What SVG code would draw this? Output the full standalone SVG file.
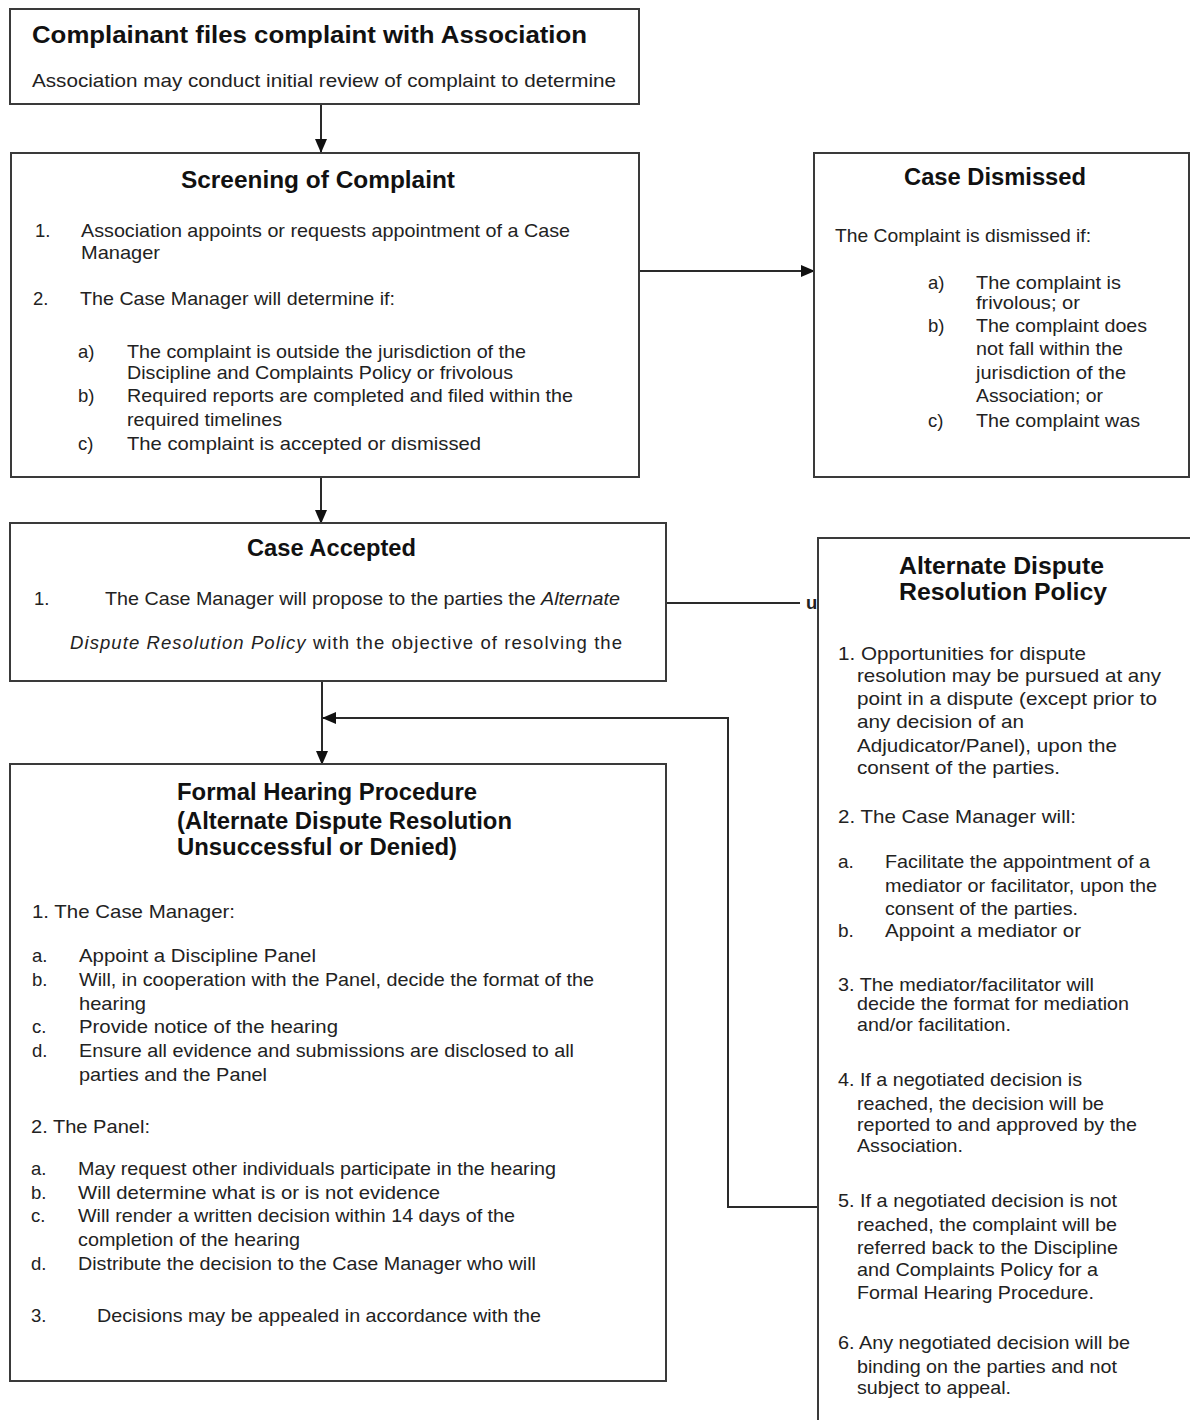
<svg xmlns="http://www.w3.org/2000/svg" width="1190" height="1420" viewBox="0 0 1190 1420">
<style>
.box{fill:#fff;stroke:#3a3a3a;stroke-width:2}
.t{font-family:"Liberation Sans",Arial,sans-serif;font-size:18.5px;fill:#222}
.a{font-family:"Liberation Sans",Arial,sans-serif;font-size:19px;fill:#222}
.h{font-family:"Liberation Sans",Arial,sans-serif;font-size:23.5px;font-weight:bold;fill:#111}
.i{font-style:italic}
.ln{fill:none;stroke:#2a2a2a;stroke-width:2}
</style>
<defs>
<marker id="arr" markerWidth="14" markerHeight="12" refX="13" refY="6" orient="auto" markerUnits="userSpaceOnUse">
<path d="M0,0 L14,6 L0,12 z" fill="#111"/>
</marker>
</defs>
<rect width="1190" height="1420" fill="#fff"/>

<g id="connectors">
<line class="ln" x1="321" y1="104" x2="321" y2="152" marker-end="url(#arr)"/>
<line class="ln" x1="639" y1="271" x2="814" y2="271" marker-end="url(#arr)"/>
<line class="ln" x1="321" y1="477" x2="321" y2="523" marker-end="url(#arr)"/>
<line class="ln" x1="322" y1="681" x2="322" y2="764" marker-end="url(#arr)"/>
<line class="ln" x1="666" y1="603" x2="800" y2="603"/>
<polyline class="ln" points="818,1207 728,1207 728,718 323,718" marker-end="url(#arr)"/>
<text class="t" x="806" y="609" font-weight="bold" font-size="14">u</text>
</g>

<g id="complainant">
<rect class="box" x="10" y="9" width="629" height="95"/>
<text class="h" x="32" y="43" textLength="555" lengthAdjust="spacingAndGlyphs">Complainant files complaint with Association</text>
<text class="t" x="32" y="87" textLength="584" lengthAdjust="spacingAndGlyphs">Association may conduct initial review of complaint to determine</text>
</g>

<g id="screening">
<rect class="box" x="11" y="153" width="628" height="324"/>
<text class="h" x="181" y="188" textLength="274" lengthAdjust="spacingAndGlyphs">Screening of Complaint</text>
<text class="t" x="35" y="237">1.</text>
<text class="t" x="81" y="237" textLength="489" lengthAdjust="spacingAndGlyphs">Association appoints or requests appointment of a Case</text>
<text class="t" x="81" y="259" textLength="79" lengthAdjust="spacingAndGlyphs">Manager</text>
<text class="t" x="33" y="305">2.</text>
<text class="t" x="80" y="305" textLength="315" lengthAdjust="spacingAndGlyphs">The Case Manager will determine if:</text>
<text class="t" x="78" y="358">a)</text>
<text class="t" x="127" y="358" textLength="399" lengthAdjust="spacingAndGlyphs">The complaint is outside the jurisdiction of the</text>
<text class="t" x="127" y="379" textLength="386" lengthAdjust="spacingAndGlyphs">Discipline and Complaints Policy or frivolous</text>
<text class="t" x="78" y="402">b)</text>
<text class="t" x="127" y="402" textLength="446" lengthAdjust="spacingAndGlyphs">Required reports are completed and filed within the</text>
<text class="t" x="127" y="426" textLength="155" lengthAdjust="spacingAndGlyphs">required timelines</text>
<text class="t" x="78" y="450">c)</text>
<text class="t" x="127" y="450" textLength="354" lengthAdjust="spacingAndGlyphs">The complaint is accepted or dismissed</text>
</g>

<g id="dismissed">
<rect class="box" x="814" y="153" width="375" height="324"/>
<text class="h" x="904" y="185" textLength="182" lengthAdjust="spacingAndGlyphs">Case Dismissed</text>
<text class="t" x="835" y="242" textLength="256" lengthAdjust="spacingAndGlyphs">The Complaint is dismissed if:</text>
<text class="t" x="928" y="289">a)</text>
<text class="t" x="976" y="289" font-size="17" textLength="145" lengthAdjust="spacingAndGlyphs">The complaint is</text>
<text class="t" x="976" y="309" font-size="17" textLength="104" lengthAdjust="spacingAndGlyphs">frivolous; or</text>
<text class="t" x="928" y="332">b)</text>
<text class="t" x="976" y="332" textLength="171" lengthAdjust="spacingAndGlyphs">The complaint does</text>
<text class="t" x="976" y="355" textLength="147" lengthAdjust="spacingAndGlyphs">not fall within the</text>
<text class="t" x="976" y="379" textLength="150" lengthAdjust="spacingAndGlyphs">jurisdiction of the</text>
<text class="t" x="976" y="402" textLength="127" lengthAdjust="spacingAndGlyphs">Association; or</text>
<text class="t" x="928" y="427">c)</text>
<text class="t" x="976" y="427" textLength="164" lengthAdjust="spacingAndGlyphs">The complaint was</text>
</g>

<g id="accepted">
<rect class="box" x="10" y="523" width="656" height="158"/>
<text class="h" x="247" y="556" textLength="169" lengthAdjust="spacingAndGlyphs">Case Accepted</text>
<text class="t" x="34" y="605">1.</text>
<text class="t" x="105" y="605" textLength="515" lengthAdjust="spacingAndGlyphs">The Case Manager will propose to the parties the <tspan class="i">Alternate</tspan></text>
<text class="t" x="70" y="649" textLength="552" lengthAdjust="spacing"><tspan class="i">Dispute Resolution Policy</tspan> with the objective of resolving the</text>
</g>

<g id="formal-hearing">
<rect class="box" x="10" y="764" width="656" height="617"/>
<text class="h" x="177" y="800" textLength="300" lengthAdjust="spacingAndGlyphs">Formal Hearing Procedure</text>
<text class="h" x="177" y="829" textLength="335" lengthAdjust="spacingAndGlyphs">(Alternate Dispute Resolution</text>
<text class="h" x="177" y="855" textLength="280" lengthAdjust="spacingAndGlyphs">Unsuccessful or Denied)</text>
<text class="t" x="32" y="918" textLength="203" lengthAdjust="spacingAndGlyphs">1. The Case Manager:</text>
<text class="t" x="32" y="962">a.</text>
<text class="t" x="79" y="962" textLength="237" lengthAdjust="spacingAndGlyphs">Appoint a Discipline Panel</text>
<text class="t" x="32" y="986">b.</text>
<text class="t" x="79" y="986" textLength="515" lengthAdjust="spacingAndGlyphs">Will, in cooperation with the Panel, decide the format of the</text>
<text class="t" x="79" y="1010" textLength="67" lengthAdjust="spacingAndGlyphs">hearing</text>
<text class="t" x="32" y="1033">c.</text>
<text class="t" x="79" y="1033" textLength="259" lengthAdjust="spacingAndGlyphs">Provide notice of the hearing</text>
<text class="t" x="32" y="1057">d.</text>
<text class="t" x="79" y="1057" textLength="495" lengthAdjust="spacingAndGlyphs">Ensure all evidence and submissions are disclosed to all</text>
<text class="t" x="79" y="1081" textLength="188" lengthAdjust="spacingAndGlyphs">parties and the Panel</text>
<text class="t" x="31" y="1133" textLength="119" lengthAdjust="spacingAndGlyphs">2. The Panel:</text>
<text class="t" x="31" y="1175">a.</text>
<text class="t" x="78" y="1175" textLength="478" lengthAdjust="spacingAndGlyphs">May request other individuals participate in the hearing</text>
<text class="t" x="31" y="1199">b.</text>
<text class="t" x="78" y="1199" textLength="362" lengthAdjust="spacingAndGlyphs">Will determine what is or is not evidence</text>
<text class="t" x="31" y="1222">c.</text>
<text class="t" x="78" y="1222" textLength="437" lengthAdjust="spacingAndGlyphs">Will render a written decision within 14 days of the</text>
<text class="t" x="78" y="1246" textLength="222" lengthAdjust="spacingAndGlyphs">completion of the hearing</text>
<text class="t" x="31" y="1270">d.</text>
<text class="t" x="78" y="1270" textLength="458" lengthAdjust="spacingAndGlyphs">Distribute the decision to the Case Manager who will</text>
<text class="t" x="31" y="1322">3.</text>
<text class="t" x="97" y="1322" textLength="444" lengthAdjust="spacingAndGlyphs">Decisions may be appealed in accordance with the</text>
</g>

<g id="adr">
<rect class="box" x="818" y="538" width="390" height="900"/>
<text class="h" x="899" y="574" textLength="205" lengthAdjust="spacingAndGlyphs">Alternate Dispute</text>
<text class="h" x="899" y="600" textLength="208" lengthAdjust="spacingAndGlyphs">Resolution Policy</text>
<text class="a" x="838" y="660" textLength="248" lengthAdjust="spacingAndGlyphs">1. Opportunities for dispute</text>
<text class="a" x="857" y="682" textLength="304" lengthAdjust="spacingAndGlyphs">resolution may be pursued at any</text>
<text class="a" x="857" y="705" textLength="300" lengthAdjust="spacingAndGlyphs">point in a dispute (except prior to</text>
<text class="a" x="857" y="728" textLength="167" lengthAdjust="spacingAndGlyphs">any decision of an</text>
<text class="a" x="857" y="752" textLength="260" lengthAdjust="spacingAndGlyphs">Adjudicator/Panel), upon the</text>
<text class="a" x="857" y="774" textLength="203" lengthAdjust="spacingAndGlyphs">consent of the parties.</text>
<text class="a" x="838" y="823" textLength="238" lengthAdjust="spacingAndGlyphs">2. The Case Manager will:</text>
<text class="a" x="838" y="868">a.</text>
<text class="a" x="885" y="868" textLength="265" lengthAdjust="spacingAndGlyphs">Facilitate the appointment of a</text>
<text class="a" x="885" y="892" textLength="272" lengthAdjust="spacingAndGlyphs">mediator or facilitator, upon the</text>
<text class="a" x="885" y="915" textLength="193" lengthAdjust="spacingAndGlyphs">consent of the parties.</text>
<text class="a" x="838" y="937">b.</text>
<text class="a" x="885" y="937" textLength="196" lengthAdjust="spacingAndGlyphs">Appoint a mediator or</text>
<text class="a" x="838" y="991" textLength="256" lengthAdjust="spacingAndGlyphs">3. The mediator/facilitator will</text>
<text class="a" x="857" y="1010" textLength="272" lengthAdjust="spacingAndGlyphs">decide the format for mediation</text>
<text class="a" x="857" y="1031" textLength="154" lengthAdjust="spacingAndGlyphs">and/or facilitation.</text>
<text class="a" x="838" y="1086" textLength="244" lengthAdjust="spacingAndGlyphs">4. If a negotiated decision is</text>
<text class="a" x="857" y="1110" textLength="247" lengthAdjust="spacingAndGlyphs">reached, the decision will be</text>
<text class="a" x="857" y="1131" textLength="280" lengthAdjust="spacingAndGlyphs">reported to and approved by the</text>
<text class="a" x="857" y="1152" textLength="106" lengthAdjust="spacingAndGlyphs">Association.</text>
<text class="a" x="838" y="1207" textLength="279" lengthAdjust="spacingAndGlyphs">5. If a negotiated decision is not</text>
<text class="a" x="857" y="1231" textLength="260" lengthAdjust="spacingAndGlyphs">reached, the complaint will be</text>
<text class="a" x="857" y="1254" textLength="261" lengthAdjust="spacingAndGlyphs">referred back to the Discipline</text>
<text class="a" x="857" y="1276" textLength="241" lengthAdjust="spacingAndGlyphs">and Complaints Policy for a</text>
<text class="a" x="857" y="1299" textLength="237" lengthAdjust="spacingAndGlyphs">Formal Hearing Procedure.</text>
<text class="a" x="838" y="1349" textLength="292" lengthAdjust="spacingAndGlyphs">6. Any negotiated decision will be</text>
<text class="a" x="857" y="1373" textLength="260" lengthAdjust="spacingAndGlyphs">binding on the parties and not</text>
<text class="a" x="857" y="1394" textLength="154" lengthAdjust="spacingAndGlyphs">subject to appeal.</text>
</g>
</svg>
